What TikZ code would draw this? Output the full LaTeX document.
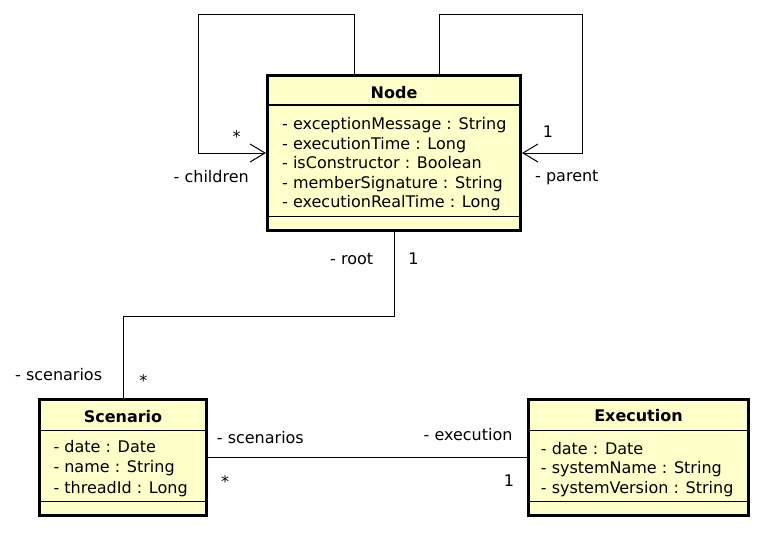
\documentclass[tikz,border=0pt]{standalone}
\usepackage{fontspec}
\setmainfont{DejaVu Sans}
\usetikzlibrary{arrows.meta}
\definecolor{umlfill}{RGB}{255,255,202}
\begin{document}
\begin{tikzpicture}[x=1pt,y=-1pt,
  cls/.style={draw, line width=3pt, fill=umlfill, inner sep=0pt},
  sep/.style={line width=1.3pt},
  txt/.style={inner sep=0pt, font=\fontsize{16}{18}\selectfont},
  ttl/.style={inner sep=0pt, font=\fontsize{16}{18}\selectfont\bfseries},
  assoc/.style={line width=1pt},
  nav/.style={assoc, -{Straight Barb[length=15pt,width=18pt,line width=1pt]}}
]
\useasboundingbox (0,0) rectangle (763,550);
% Node class
\node[cls, minimum width=253pt, minimum height=155pt] (nodeC) at (394,153) {};
\draw[sep] (nodeC.west |- 0,105) -- (nodeC.east |- 0,105);
\draw[sep] (nodeC.west |- 0,216.7) -- (nodeC.east |- 0,216.7);
\node[ttl, anchor=base] (nodeT) at (394,98.3) {Node};
\foreach \t [count=\i] in {- exceptionMessage : String, - executionTime : Long, - isConstructor : Boolean, - memberSignature : String, - executionRealTime : Long}
  \node[txt, anchor=base west] (na\i) at (282,{110+19.5*\i}) {\t};
% Scenario class
\node[cls, minimum width=167pt, minimum height=116pt] (scen) at (123,457.5) {};
\draw[sep] (scen.west |- 0,430.7) -- (scen.east |- 0,430.7);
\draw[sep] (scen.west |- 0,501.7) -- (scen.east |- 0,501.7);
\node[ttl, anchor=base] (scenT) at (123,422.7) {Scenario};
\foreach \t [count=\i] in {- date : Date, - name : String, - threadId : Long}
  \node[txt, anchor=base west] (sa\i) at (53.3,{432.5+20.2*\i}) {\t};
% Execution class
\node[cls, minimum width=220pt, minimum height=116pt] (exec) at (638.5,457.5) {};
\draw[sep] (exec.west |- 0,430.3) -- (exec.east |- 0,430.3);
\draw[sep] (exec.west |- 0,501.3) -- (exec.east |- 0,501.3);
\node[ttl, anchor=base] (execT) at (638.5,421.7) {Execution};
\foreach \t [count=\i] in {- date : Date, - systemName : String, - systemVersion : String}
  \node[txt, anchor=base west] (ea\i) at (540.7,{434.5+19.5*\i}) {\t};
% connectors
\draw[nav] ([xshift=-40pt]nodeC.north) |- (198,14) |- (nodeC.west);
\draw[nav] ([xshift=45pt]nodeC.north) |- (582,14) |- (nodeC.east);
\draw[assoc] (nodeC.south) -- (nodeC.south |- 0,316) -| (scen.north);
\draw[assoc] (scen.east) -- (exec.west);
% labels
\node[txt, anchor=base east] (lchild) at (249,182) {- children};
\node[txt, anchor=base] (lstar1) at (236.7,142) {*};
\node[txt, anchor=base] (lone1) at (548,137.3) {1};
\node[txt, anchor=base west] (lparent) at (535,181.7) {- parent};
\node[txt, anchor=base west] (lroot) at (330,264) {- root};
\node[txt, anchor=base] (lone2) at (413.5,264) {1};
\node[txt, anchor=base west] (lscen1) at (15,380.7) {- scenarios};
\node[txt, anchor=base] (lstar2) at (143.3,386) {*};
\node[txt, anchor=base west] (lscen2) at (216.7,443.3) {- scenarios};
\node[txt, anchor=base] (lstar3) at (225,487) {*};
\node[txt, anchor=base east] (lexec) at (512.7,440) {- execution};
\node[txt, anchor=base] (lone3) at (509,486.7) {1};
\end{tikzpicture}
\end{document}
